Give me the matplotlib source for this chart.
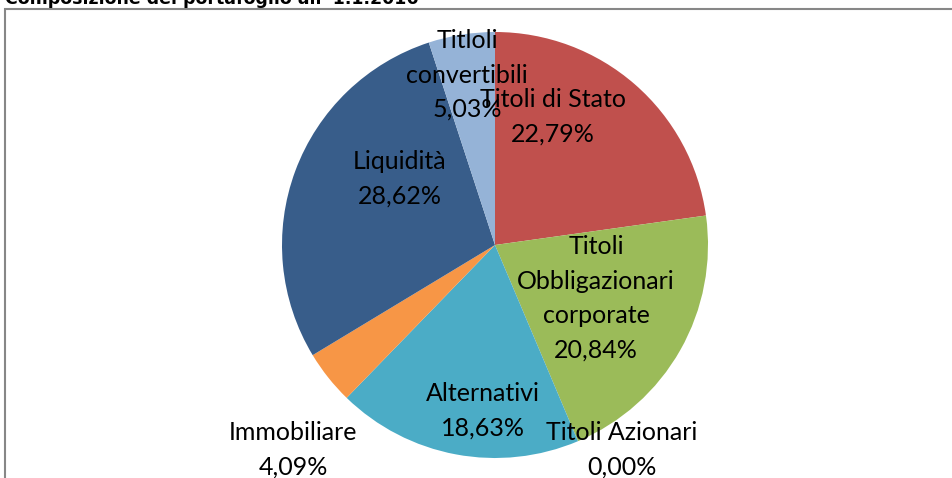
import matplotlib.pyplot as plt
from matplotlib.patches import Rectangle

# portfolio composition at 1.1.2016
categories = ["Titoli di Stato", "Titoli\nObbligazionari\ncorporate", "Titoli Azionari",
              "Alternativi", "Immobiliare", "Liquidità", "Titloli\nconvertibili"]
shares = [22.79, 20.84, 0.00, 18.63, 4.09, 28.62, 5.03]
colors = ["#C0504D", "#9BBB59", "#8064A2", "#4BACC6", "#F79646", "#385D8A", "#95B3D7"]

# label centres in pie units (radius = 1), as placed in the original
label_pos = [(0.272, 0.603), (0.474, -0.251), (0.596, -0.962), (-0.056, -0.779),
             (-0.948, -0.962), (-0.446, 0.310), (-0.131, 0.798)]

W, H = 953, 478
fig = plt.figure(figsize=(W / 100, H / 100), dpi=100)

# outer chart frame (only top and left edges visible)
fig.add_artist(Rectangle((5 / W, -0.1), 1.2, 1 - 9 / H + 0.1, transform=fig.transFigure,
                         fill=False, edgecolor="#878787", linewidth=1.5))

# cut-off title at the very top
fig.text(5 / W, 1 - 4 / H, "Composizione del portafoglio all' 1.1.2016",
         fontfamily="DejaVu Sans", fontweight="bold", fontsize=12.5, va="baseline", ha="left")

cx, cy, R = 495, 245, 213
ax = fig.add_axes([(cx - R) / W, (H - cy - R) / H, 2 * R / W, 2 * R / H])
wedges, texts = ax.pie(shares, colors=colors, startangle=90, counterclock=False,
                       radius=1, labels=[f"{c}\n{v:.2f}%".replace(".", ",") for c, v in zip(categories, shares)],
                       wedgeprops=dict(linewidth=0),
                       textprops=dict(fontfamily="Lato", fontsize=18, linespacing=1.6))
for t, (x, y) in zip(texts, label_pos):
    t.set_position((x, y))
    t.set_ha("center")
    t.set_va("center")
    t.set_multialignment("center")
ax.set_xlim(-1, 1)
ax.set_ylim(-1, 1)
ax.set_aspect("auto")
ax.axis("off")

fig.savefig("out.png", dpi=100)
